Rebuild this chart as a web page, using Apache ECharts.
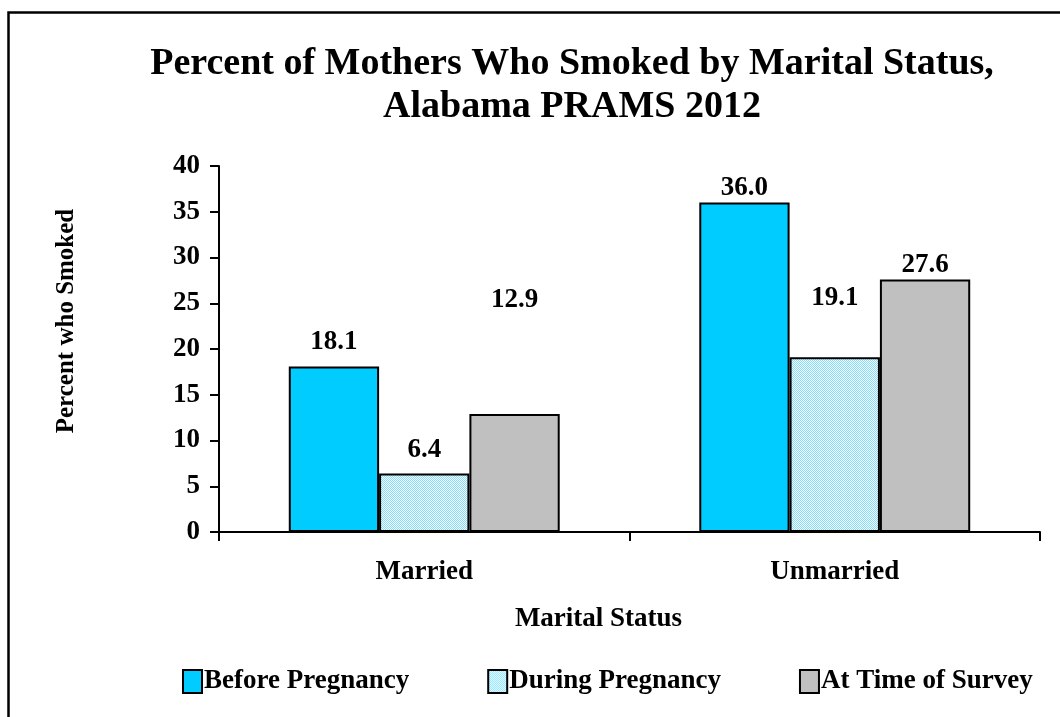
<!DOCTYPE html>
<html>
<head>
<meta charset="utf-8">
<script src="https://cdn.jsdelivr.net/npm/echarts@6/dist/echarts.min.js"></script>
<style>html,body{margin:0;padding:0;background:#fff;}#c{width:1060px;height:717px;}</style>
</head>
<body>
<div id="c"></div>
<script>
const categories = ['Married', 'Unmarried'];
const seriesNames = ['Before Pregnancy', 'During Pregnancy', 'At Time of Survey'];
const beforePregnancy = [18.1, 36.0];
const duringPregnancy = [6.4, 19.1];
const atTimeOfSurvey = [12.9, 27.6];
const yTicks = [0, 5, 10, 15, 20, 25, 30, 35, 40];

// label gaps above each bar (px), per series, as placed in the original
const labelGaps = [[11, 1], [10, 46], [100, 1]];

// dotted light-cyan pattern
const pc = document.createElement('canvas');
pc.width = 2; pc.height = 2;
const pctx = pc.getContext('2d');
pctx.fillStyle = '#ffffff'; pctx.fillRect(0, 0, 2, 2);
pctx.fillStyle = '#7fdfff';
pctx.fillRect(0, 0, 1, 1); pctx.fillRect(1, 1, 1, 1);

const FONT = '"Liberation Serif", "Times New Roman", serif';
const chart = echarts.init(document.getElementById('c'));
const labelStyle = { show: true, position: 'top', fontFamily: FONT, fontWeight: 'bold', fontSize: 27, color: '#000', formatter: p => p.value.toFixed(1) };
const itemBase = { borderColor: '#000', borderWidth: 2 };
const withGaps = (vals, si) => vals.map((v, i) => ({ value: v, label: { distance: labelGaps[si][i] } }));
const fills = ['#00ccff', { image: pc, repeat: 'repeat' }, '#c0c0c0'];
const seriesData = [beforePregnancy, duringPregnancy, atTimeOfSurvey];

chart.setOption({
  animation: false,
  backgroundColor: '#fff',
  graphic: [{ type: 'rect', shape: { x: 8.5, y: 12.5, width: 1200, height: 900 }, style: { fill: 'none', stroke: '#000', lineWidth: 2.5 }, silent: true }],
  title: {
    text: 'Percent of Mothers Who Smoked by Marital Status,\nAlabama PRAMS 2012',
    left: 567, top: 38, textAlign: 'center',
    textStyle: { fontFamily: FONT, fontWeight: 'bold', fontSize: 38, lineHeight: 43, color: '#000' }
  },
  legend: {
    top: 663, left: 177,
    itemWidth: 19, itemHeight: 23, itemGap: 78,
    icon: 'rect',
    textStyle: { fontFamily: FONT, fontWeight: 'bold', fontSize: 27, color: '#000', padding: [0, 0, 0, -3] },
    data: seriesNames
  },
  grid: { left: 219, right: 20, top: 166, bottom: 185 },
  xAxis: {
    type: 'category', data: categories,
    axisLine: { lineStyle: { color: '#000', width: 2 } },
    axisTick: { show: true, length: 9, lineStyle: { color: '#000', width: 2 } },
    axisLabel: { fontFamily: FONT, fontWeight: 'bold', fontSize: 27, color: '#000', margin: 27 },
    name: 'Marital Status', nameLocation: 'middle', nameGap: 74,
    nameTextStyle: { fontFamily: FONT, fontWeight: 'bold', fontSize: 27, color: '#000', padding: [0, 62, 0, 0] }
  },
  yAxis: {
    type: 'value', min: yTicks[0], max: yTicks[yTicks.length - 1], interval: 5,
    axisLine: { show: true, lineStyle: { color: '#000', width: 2 } },
    axisTick: { show: true, length: 9, lineStyle: { color: '#000', width: 2 } },
    splitLine: { show: false },
    axisLabel: { fontFamily: FONT, fontWeight: 'bold', fontSize: 27, color: '#000', margin: 19 },
    name: 'Percent who Smoked', nameLocation: 'middle', nameGap: 140, nameRotate: 90,
    nameTextStyle: { fontFamily: FONT, fontWeight: 'bold', fontSize: 25, color: '#000', padding: [0, 0, 0, 56] }
  },
  series: seriesNames.map((name, si) => ({
    name, type: 'bar', data: withGaps(seriesData[si], si),
    barGap: '0%', barCategoryGap: '34%',
    itemStyle: Object.assign({ color: fills[si] }, itemBase),
    label: labelStyle
  }))
});
</script>
</body>
</html>
